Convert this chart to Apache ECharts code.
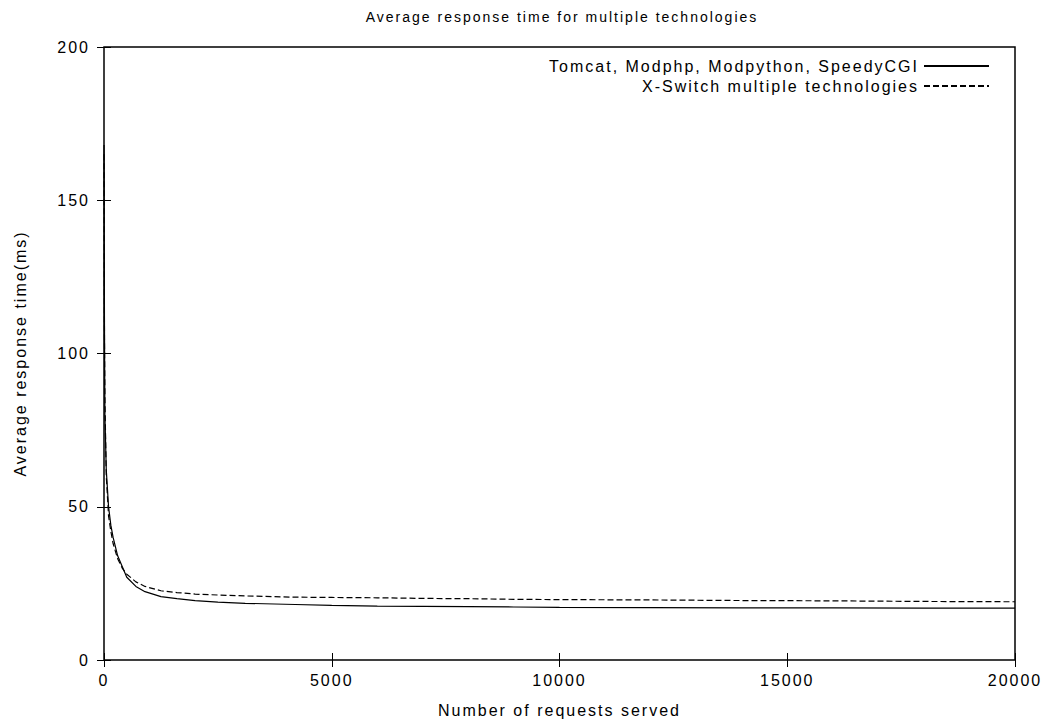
<!DOCTYPE html>
<html>
<head>
<meta charset="utf-8">
<script src="https://cdn.jsdelivr.net/npm/echarts@6/dist/echarts.min.js"></script>
<style>
  html, body { margin: 0; padding: 0; background: #fff; }
  #chart { width: 1052px; height: 728px; }
  /* gnuplot's text is wider than Liberation Sans; widen it a little */
  #chart svg text { letter-spacing: 2px; }
</style>
</head>
<body>
<div id="chart"></div>
<script>
// number of requests served (x)
var requests = [1, 10, 20, 50, 100, 150, 200, 300, 400, 500, 700, 900, 1250, 1600, 2000,
  2500, 3100, 4200, 5000, 6000, 7000, 8000, 9000, 10000, 12000, 14000, 16000, 18000, 20000];
// Tomcat, Modphp, Modpython, SpeedyCGI
var separateTech = [168, 110, 80, 62, 50, 44, 40, 34, 30.5, 27, 24, 22.3, 20.7, 20, 19.4,
  18.9, 18.5, 18.1, 17.8, 17.6, 17.5, 17.4, 17.3, 17.2, 17.1, 17.0, 17.0, 16.9, 16.9];
// X-Switch multiple technologies
var xSwitch = [165, 105, 85, 60, 47, 42, 38, 33, 30, 28, 25.5, 24, 22.6, 22, 21.5,
  21.2, 20.9, 20.5, 20.4, 20.3, 20.1, 20.0, 19.8, 19.7, 19.6, 19.4, 19.3, 19.1, 19.0];

var seriesNames = ['Tomcat, Modphp, Modpython, SpeedyCGI', 'X-Switch multiple technologies'];

function pairs(ys) {
  return requests.map(function (x, i) { return [x, ys[i]]; });
}

var font = 'Liberation Sans, Arial, sans-serif';
var chart = echarts.init(document.getElementById('chart'), null, { renderer: 'svg' });

// gnuplot-style box with mirrored ticks
function xAx(pos, showLabel) {
  return {
    type: 'value', position: pos, min: 0, max: 20000, interval: 5000,
    axisLine: { show: false },
    axisTick: { show: true, inside: true, length: 7, lineStyle: { color: '#000' } },
    axisLabel: { show: showLabel, color: '#000', fontSize: 16, fontFamily: font, margin: 12,
      formatter: function (v) { return String(v); } },
    splitLine: { show: false }
  };
}
function yAx(pos, showLabel) {
  return {
    type: 'value', position: pos, min: 0, max: 200, interval: 50,
    axisLine: { show: false },
    axisTick: { show: true, inside: true, length: 7, lineStyle: { color: '#000' } },
    axisLabel: { show: showLabel, color: '#000', fontSize: 16, fontFamily: font, margin: 14 },
    splitLine: { show: false }
  };
}

var xMain = xAx('bottom', true);
xMain.name = 'Number of requests served';
xMain.nameLocation = 'middle';
xMain.nameGap = 42;
xMain.nameTextStyle = { color: '#000', fontSize: 16, fontFamily: font };
var xTop = xAx('top', false);

var yMain = yAx('left', true);
yMain.name = 'Average response time(ms)';
yMain.nameLocation = 'middle';
yMain.nameGap = 76;
yMain.nameTextStyle = { color: '#000', fontSize: 16, fontFamily: font };
var yRight = yAx('right', false);

chart.setOption({
  animation: false,
  title: {
    text: 'Average response time for multiple technologies',
    left: 557, top: 5, textAlign: 'center',
    textStyle: { color: '#000', fontSize: 14, fontWeight: 'normal', fontFamily: font }
  },
  legend: {
    orient: 'vertical', right: 57, top: 53, align: 'right',
    itemWidth: 65, itemHeight: 12, itemGap: 4,
    itemStyle: { opacity: 0 },
    textStyle: { color: '#000', fontSize: 16, fontFamily: font },
    data: seriesNames
  },
  grid: {
    left: 104, right: 37, top: 47, bottom: 68,
    show: true, borderColor: '#000', borderWidth: 1.5, backgroundColor: 'transparent'
  },
  xAxis: [xMain, xTop],
  yAxis: [yMain, yRight],
  series: [
    {
      name: seriesNames[0], type: 'line', showSymbol: false, symbol: 'none',
      xAxisIndex: 0, yAxisIndex: 0,
      itemStyle: { color: '#000' },
      lineStyle: { color: '#000', width: 1.2, type: 'solid' },
      data: pairs(separateTech)
    },
    {
      name: seriesNames[1], type: 'line', showSymbol: false, symbol: 'none',
      xAxisIndex: 0, yAxisIndex: 0,
      itemStyle: { color: '#000' },
      lineStyle: { color: '#000', width: 1.2, type: [6, 3] },
      data: pairs(xSwitch)
    }
  ]
});
</script>
</body>
</html>
